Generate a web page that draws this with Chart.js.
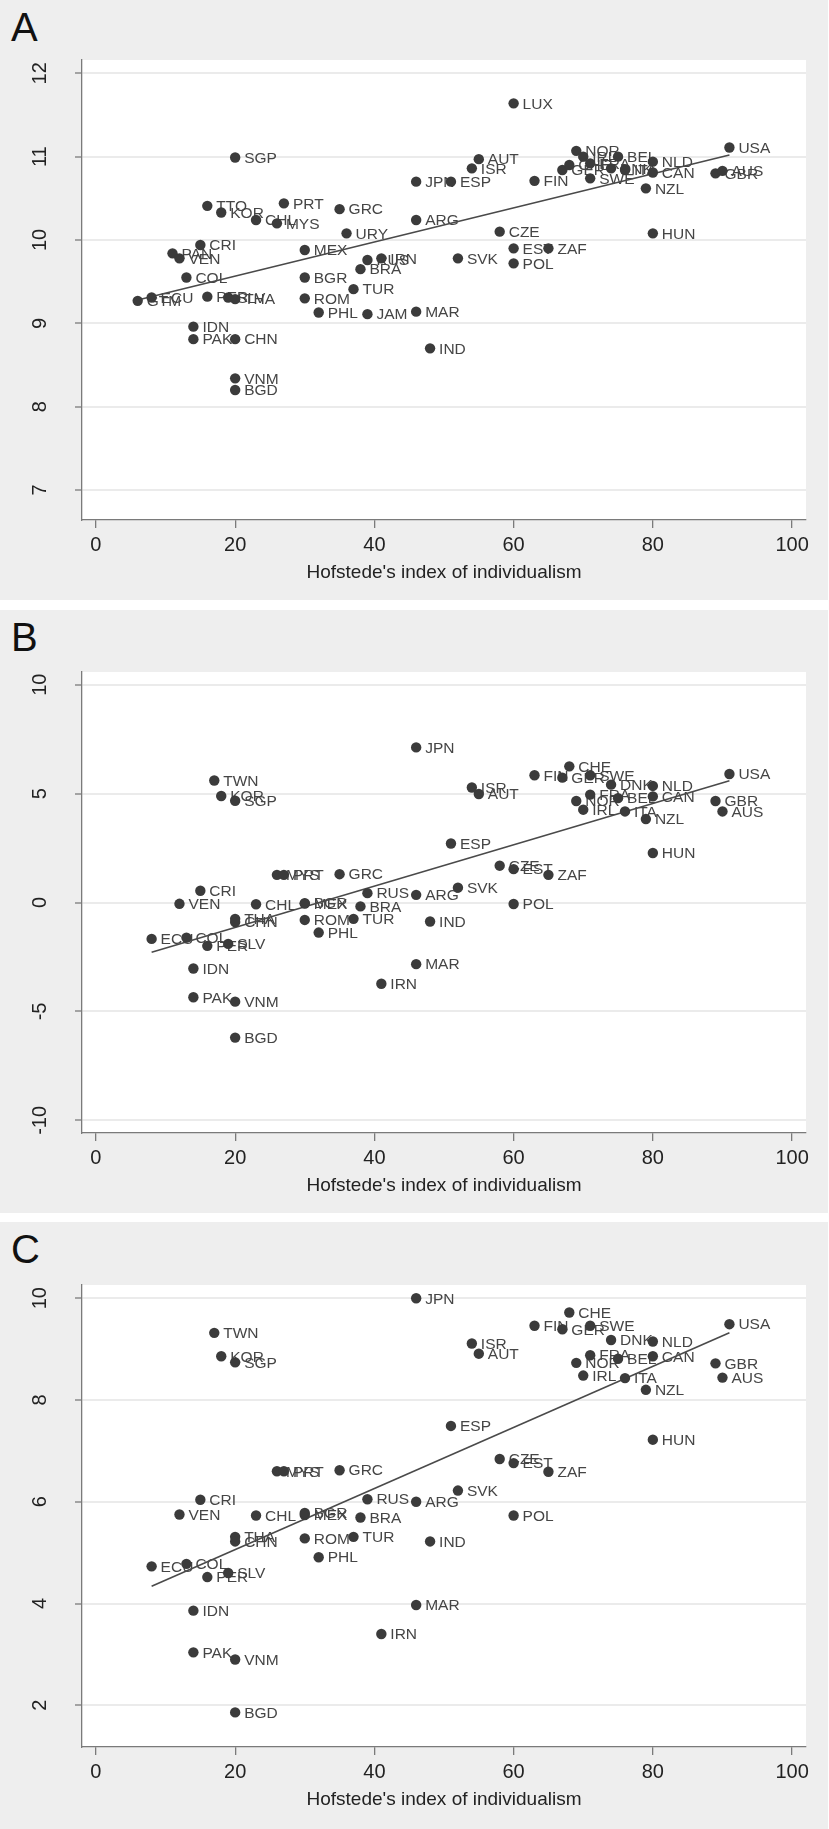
<!DOCTYPE html>
<html>
<head>
<meta charset="utf-8">
<script src="https://cdn.jsdelivr.net/npm/chart.js@4.4.1/dist/chart.umd.min.js"></script>
<style>
body { margin:0; background:#fff; width:829px; height:1829px; position:relative; font-family:"Liberation Sans", Arial, sans-serif; }
.panel { position:absolute; left:0; width:828px; background:#eeeeee; }
.panel canvas { position:absolute; left:0; top:0; }
.letter { position:absolute; left:11px; top:7px; font-size:40px; line-height:40px; color:#111; }
</style>
</head>
<body>
<div class="panel" style="top:0;height:600px"><div class="letter">A</div><canvas id="chartA" width="828" height="600"></canvas></div>
<div class="panel" style="top:610px;height:603px"><div class="letter">B</div><canvas id="chartB" width="828" height="603"></canvas></div>
<div class="panel" style="top:1222px;height:607px"><div class="letter">C</div><canvas id="chartC" width="828" height="605"></canvas></div>
<script>
// countries and Hofstede individualism score (x)
const countries = ["SGP","TTO","KOR","CHL","MYS","PRT","GRC","URY","CRI","PAN","VEN","COL","MEX","BGR","RUS","IRN","BRA","TUR","GTM","ECU","PER","SLV","THA","ROM","PHL","JAM","MAR","IND","IDN","PAK","CHN","VNM","BGD","LUX","AUT","ISR","JPN","ESP","ARG","FIN","GER","CHE","NOR","IRL","FRA","SWE","DNK","BEL","ITA","NLD","CAN","NZL","USA","GBR","AUS","CZE","EST","ZAF","POL","SVK","HUN","TWN"];
const individualism = [20,16,18,23,26,27,35,36,15,11,12,13,30,30,39,41,38,37,6,8,16,19,20,30,32,39,46,48,14,14,20,20,20,60,55,54,46,51,46,63,67,68,69,70,71,71,74,75,76,80,80,79,91,89,90,58,60,65,60,52,80,17];

// y values per panel (null = country not in panel)
const valuesA = [10.99,10.41,10.33,10.24,10.20,10.44,10.37,10.08,9.94,9.84,9.78,9.55,9.88,9.55,9.76,9.78,9.65,9.41,9.27,9.31,9.32,9.31,9.29,9.30,9.13,9.11,9.14,8.70,8.96,8.81,8.81,8.34,8.20,11.64,10.97,10.86,10.70,10.70,10.24,10.71,10.84,10.90,11.07,11.00,10.92,10.74,10.86,11.00,10.84,10.94,10.81,10.62,11.11,10.80,10.83,10.10,9.90,9.90,9.72,9.78,10.08,null];
const valuesB = [4.67,null,4.89,-0.08,1.27,1.27,1.30,null,0.54,null,-0.06,-1.61,-0.05,-0.03,0.43,-3.73,-0.18,-0.75,null,-1.67,-1.99,-1.90,-0.75,-0.80,-1.38,null,-2.83,-0.87,-3.03,-4.35,-0.90,-4.55,-6.20,null,4.98,5.28,7.12,2.71,0.35,5.84,5.73,6.25,4.66,4.26,4.95,5.84,5.41,4.79,4.18,5.35,4.87,3.83,5.90,4.66,4.18,1.69,1.53,1.27,-0.07,0.68,2.27,5.60];
const valuesC = [8.74,null,8.86,5.73,6.60,6.60,6.62,null,6.04,null,5.75,4.78,5.74,5.78,6.05,3.40,5.69,5.31,null,4.73,4.52,4.60,5.31,5.28,4.91,null,3.97,5.22,3.86,3.04,5.22,2.90,1.86,null,8.91,9.11,10.00,7.49,6.00,9.46,9.39,9.72,8.73,8.48,8.88,9.46,9.18,8.81,8.43,9.15,8.86,8.20,9.49,8.72,8.44,6.84,6.76,6.59,5.73,6.22,7.22,9.32];

// fitted lines
const fitXA = [6, 91], fitYA = [9.28, 11.02];
const fitXB = [8, 91], fitYB = [-2.28, 5.59];
const fitXC = [8, 91], fitYC = [4.34, 9.32];

const xTicks = [0, 20, 40, 60, 80, 100];
const yTicksA = [7, 8, 9, 10, 11, 12];
const yTicksB = [-10, -5, 0, 5, 10];
const yTicksC = [2, 4, 6, 8, 10];

const FONT = '"Liberation Sans", Arial, sans-serif';
Chart.defaults.font.family = FONT;

// white plot region
const plotBg = {
    id: "plotBg",
    beforeDraw(chart) {
        const {ctx, chartArea: a} = chart;
        ctx.save();
        ctx.fillStyle = "#ffffff";
        ctx.fillRect(a.left, a.top, a.right - a.left, a.bottom - a.top);
        ctx.restore();
    }
};

const labelPlugin = {
    id: "pointLabels",
    beforeDatasetsDraw(chart) {
        const ctx = chart.ctx;
        const pts = chart.data.datasets[0].data;
        const meta = chart.getDatasetMeta(0);
        ctx.save();
        ctx.font = "15.5px " + FONT;
        ctx.fillStyle = "#454545";
        ctx.textBaseline = "middle";
        meta.data.forEach((el, i) => {
            ctx.fillText(pts[i].code, el.x + 9, el.y + 1);
        });
        // rotated y tick labels
        const y = chart.scales.y;
        ctx.font = "20px " + FONT;
        ctx.fillStyle = "#222";
        ctx.textAlign = "center";
        y.ticks.forEach(t => {
            ctx.save();
            ctx.translate(40, y.getPixelForValue(t.value));
            ctx.rotate(-Math.PI / 2);
            ctx.fillText(String(t.value), 0, 0);
            ctx.restore();
        });
        ctx.restore();
    }
};

const makeChart = (id, values, fitX, fitY, yTicks, yMin, yMax, plotTop) => {
    const points = countries
        .map((c, i) => ({x: individualism[i], y: values[i], code: c}))
        .filter(p => p.y !== null);
    new Chart(document.getElementById(id), {
        type: "scatter",
        data: {
            datasets: [
            {
                data: points,
                pointRadius: 5.2,
                pointHoverRadius: 5.2,
                backgroundColor: "#3b3b3b",
                borderWidth: 0,
            },
            {
                type: "line",
                data: fitX.map((x, i) => ({x: x, y: fitY[i]})),
                borderColor: "#4a4a4a",
                borderWidth: 1.6,
                pointRadius: 0,
                fill: false,
            },
            ],
        },
        options: {
            responsive: false,
            animation: false,
            devicePixelRatio: 1,
            layout: { padding: { top: plotTop, right: 22, left: 0, bottom: 0 } },
            plugins: { legend: { display: false }, tooltip: { enabled: false } },
            scales: {
                x: {
                    type: "linear",
                    min: -2,
                    max: 102,
                    afterBuildTicks: s => { s.ticks = xTicks.map(v => ({value: v})); },
                    afterFit: s => { s.height = 80; },
                    grid: { drawOnChartArea: false, tickLength: 8, color: "#7a7a7a", lineWidth: 1.3 },
                    border: { color: "#7a7a7a", width: 1.3 },
                    ticks: { font: { size: 20 }, color: "#222", padding: 5, maxRotation: 0 },
                    title: {
                        display: true,
                        text: "Hofstede's index of individualism",
                        font: { size: 19 },
                        color: "#222",
                        padding: { top: 0, bottom: 16 },
                    },
                },
                y: {
                    type: "linear",
                    min: yMin,
                    max: yMax,
                    afterBuildTicks: s => { s.ticks = yTicks.map(v => ({value: v})); },
                    afterFit: s => { s.width = 82; },
                    grid: { color: "#ebebeb", lineWidth: 2, tickLength: 7, tickColor: "#7a7a7a", tickWidth: 1.3 },
                    border: { color: "#7a7a7a", width: 1.3 },
                    ticks: { display: false },
                },
            },
        },
        plugins: [plotBg, labelPlugin],
    });
};

makeChart("chartA", valuesA, fitXA, fitYA, yTicksA, 6.64, 12.16, 60);
makeChart("chartB", valuesB, fitXB, fitYB, yTicksB, -10.58, 10.58, 62);
makeChart("chartC", valuesC, fitXC, fitYC, yTicksC, 1.18, 10.26, 63);
</script>
</body>
</html>
